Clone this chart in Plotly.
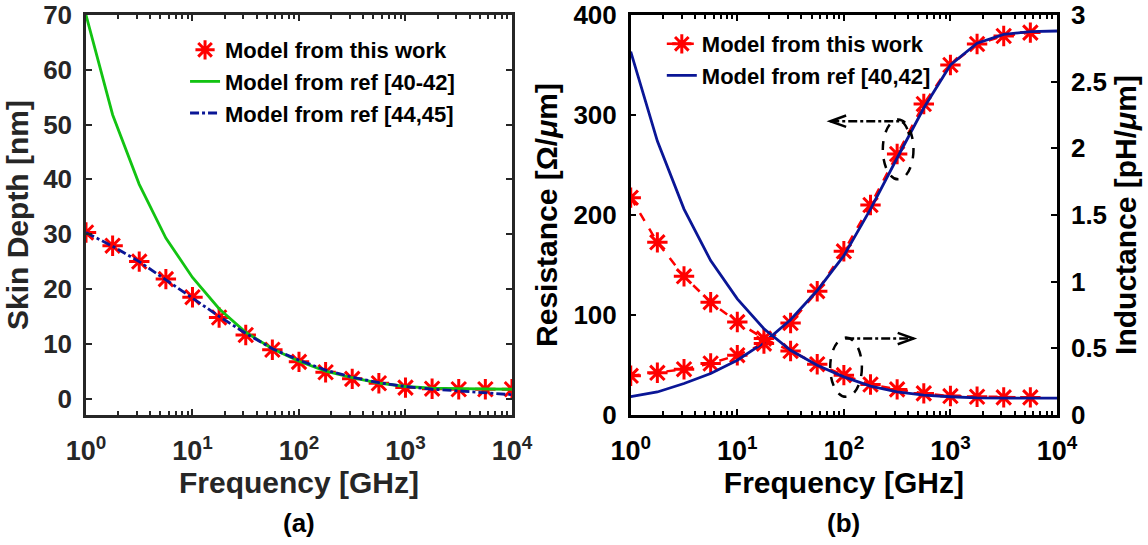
import plotly.graph_objects as go

# ---- data -----------------------------------------------------------------
# frequency grid, quarter-decade steps [GHz]
freq = [1, 1.778, 3.162, 5.623, 10, 17.78, 31.62, 56.23, 100, 177.8,
        316.2, 562.3, 1000, 1778, 3162, 5623, 10000]

# (a) skin depth [nm]
skin_this_work = [30.3, 27.9, 25.0, 21.8, 18.5, 14.8, 11.6, 8.9, 6.7, 4.8,
                  3.6, 2.8, 2.0, 1.8, 1.7, 1.7, 1.7]
skin_ref_40_42 = [70.0, 51.8, 39.1, 29.3, 22.1, 16.4, 12.1, 9.1, 6.8, 5.0,
                  3.8, 2.8, 2.2, 1.9, 1.8, 1.7, 1.7]
skin_ref_44_45 = [30.3, 27.8, 25.0, 21.7, 18.4, 15.0, 11.9, 9.1, 7.0, 5.2,
                  3.9, 2.9, 2.2, 1.7, 1.4, 1.1, 0.7]

# (b) per-unit-length resistance [Ohm/um] and inductance [pH/um]
freq_work = freq[:16]
res_this_work = [39.2, 42.2, 45.8, 51.5, 59.8, 71.4, 92.0, 123.8, 163.7, 210.0,
                 261.0, 311.0, 350.0, 371.0, 379.0, 382.4]
res_ref_40_42 = [18.3, 23.0, 31.5, 41.5, 54.8, 72.4, 95.3, 124.5, 159.3, 205.8,
                 257.0, 307.0, 350.0, 371.8, 380.7, 383.4, 384.0]
ind_this_work = [1.63, 1.295, 1.04, 0.846, 0.697, 0.573, 0.48, 0.381, 0.299,
                 0.229, 0.192, 0.162, 0.142, 0.137, 0.132, 0.132]
ind_ref_40_42 = [2.726, 2.054, 1.544, 1.158, 0.871, 0.647, 0.485, 0.373, 0.286,
                 0.217, 0.174, 0.149, 0.137, 0.129, 0.127, 0.127, 0.127]

decade_vals = [1, 10, 100, 1000, 10000]
decade_text = ["10<sup>0</sup>", "10<sup>1</sup>", "10<sup>2</sup>",
               "10<sup>3</sup>", "10<sup>4</sup>"]

# ---- styling ----------------------------------------------------------------
FONT = "Arial, Liberation Sans, sans-serif"
RED = "#ff0000"
GREEN = "#12c312"
NAVY = "#0a1696"
GREY = "#262626"

minor_vals = [m * 10 ** d for d in range(4) for m in range(2, 10)]

star = dict(symbol="asterisk-open", size=17, color=RED,
            line=dict(color=RED, width=3))

fig = go.Figure()

# (a) skin depth -- markers first so the model curves sit on top
fig.add_trace(go.Scatter(x=freq, y=skin_this_work, mode="markers",
                         marker=star, name="Model from this work",
                         legend="legend", legendrank=1, xaxis="x", yaxis="y"))
fig.add_trace(go.Scatter(x=freq, y=skin_ref_40_42, mode="lines",
                         line=dict(color=GREEN, width=2.8),
                         name="Model from ref [40-42]", legend="legend",
                         legendrank=2, xaxis="x", yaxis="y"))
fig.add_trace(go.Scatter(x=freq, y=skin_ref_44_45, mode="lines",
                         line=dict(color=NAVY, width=2.8, dash="dashdot"),
                         name="Model from ref [44,45]", legend="legend",
                         legendrank=3, xaxis="x", yaxis="y"))

# (b) resistance (left axis) and inductance (right axis)
fig.add_trace(go.Scatter(x=freq_work, y=res_this_work, mode="lines+markers",
                         line=dict(color=RED, width=2.5, dash="dash"),
                         marker=star, name="Model from this work",
                         legend="legend2", legendrank=1,
                         xaxis="x2", yaxis="y2"))
fig.add_trace(go.Scatter(x=freq_work, y=ind_this_work, mode="lines+markers",
                         line=dict(color=RED, width=2.5, dash="dash"),
                         marker=star, name="Model from this work",
                         showlegend=False, xaxis="x2", yaxis="y3"))
fig.add_trace(go.Scatter(x=freq, y=res_ref_40_42, mode="lines",
                         line=dict(color=NAVY, width=2.8),
                         name="Model from ref [40,42]", legend="legend2",
                         legendrank=2, xaxis="x2", yaxis="y2"))
fig.add_trace(go.Scatter(x=freq, y=ind_ref_40_42, mode="lines",
                         line=dict(color=NAVY, width=2.8),
                         name="Model from ref [40,42]", showlegend=False,
                         xaxis="x2", yaxis="y3"))


def log_x(domain, color, anchor):
    return dict(type="log", range=[0, 4], domain=domain, anchor=anchor,
                automargin=False, ticklabeloverflow="allow",
                tickmode="array", tickvals=decade_vals, ticktext=decade_text,
                ticks="inside", ticklen=6, tickwidth=2, tickcolor=color,
                ticklabelstandoff=10,
                showline=True, linecolor=color, linewidth=2.5, mirror="ticks",
                showgrid=False, zeroline=False,
                tickfont=dict(family=FONT, size=27, color=color, weight="bold"),
                minor=dict(tickmode="array", tickvals=minor_vals,
                           ticks="inside", ticklen=4, tickwidth=1.5,
                           tickcolor=color, showgrid=False),
                title=dict(text="Frequency [GHz]", standoff=4,
                           font=dict(family=FONT, size=30, color=color,
                                     weight="bold")))


title_font_grey = dict(family=FONT, size=30, color=GREY, weight="bold")
title_font_black = dict(family=FONT, size=30, color="black", weight="bold")
tick_font_grey = dict(family=FONT, size=26, color=GREY, weight="bold")
tick_font_black = dict(family=FONT, size=26, color="black", weight="bold")

fig.update_layout(
    template="none",
    width=1148, height=545,
    margin=dict(l=86, r=91, t=15, b=130),
    paper_bgcolor="white", plot_bgcolor="white",
    font=dict(family=FONT),
    xaxis=log_x([0, 0.4387], GREY, "y"),
    yaxis=dict(range=[-3, 70], dtick=10, domain=[0, 1], anchor="x",
               automargin=False, ticklabeloverflow="allow",
               ticklabelstandoff=6,
               ticks="inside", ticklen=6, tickwidth=2, tickcolor=GREY,
               showline=True, linecolor=GREY, linewidth=2.5, mirror="ticks",
               showgrid=False, zeroline=False, tickfont=tick_font_grey,
               title=dict(text="Skin Depth [nm]", standoff=6,
                          font=title_font_grey)),
    xaxis2=log_x([0.561, 1.0], "black", "y2"),
    yaxis2=dict(range=[0, 400], dtick=100, domain=[0, 1], anchor="x2",
                automargin=False, ticklabeloverflow="allow",
                ticklabelstandoff=6,
                ticks="inside", ticklen=6, tickwidth=2, tickcolor="black",
                showline=True, linecolor="black", linewidth=2.5,
                showgrid=False, zeroline=False, tickfont=tick_font_black,
                title=dict(text="Resistance [Ω/<i>μ</i>m]", standoff=7,
                           font=title_font_black)),
    yaxis3=dict(range=[0, 3], dtick=0.5, overlaying="y2", side="right",
                anchor="x2", automargin=False, ticklabeloverflow="allow",
                ticklabelstandoff=6,
                ticks="inside", ticklen=6, tickwidth=2,
                tickcolor="black", showline=True, linecolor="black",
                linewidth=2.5, showgrid=False, zeroline=False,
                tickfont=tick_font_black,
                title=dict(text="Inductance [pH/<i>μ</i>m]", standoff=9,
                           font=title_font_black)),
    legend=dict(x=0.102, y=0.965, xanchor="left", yanchor="top",
                bgcolor="rgba(0,0,0,0)", borderwidth=0,
                traceorder="normal", tracegroupgap=0,
                font=dict(family=FONT, size=22, color="black", weight="bold")),
    legend2=dict(x=0.593, y=0.98, xanchor="left", yanchor="top",
                 bgcolor="rgba(0,0,0,0)", borderwidth=0,
                 traceorder="normal", tracegroupgap=0,
                 font=dict(family=FONT, size=22, color="black", weight="bold")),
    showlegend=True,
)

# panel labels
for label, xdom in (("(a)", "x domain"), ("(b)", "x2 domain")):
    fig.add_annotation(text=label, xref=xdom, yref="paper", x=0.5, y=-0.27,
                       showarrow=False, yanchor="middle",
                       font=dict(family=FONT, size=26, color="black",
                                 weight="bold"))

# callouts: dashed ellipses around a curve, dash-dot arrows to its axis
callout = dict(color="black", width=2.5)
fig.add_shape(type="circle", xref="x2", yref="y2", x0=232, x1=450,
              y0=235.7, y1=295.5,
              line=dict(color="black", width=2.5, dash="dash"))
fig.add_shape(type="circle", xref="x2", yref="y2", x0=74.4, x1=147.6,
              y0=18.2, y1=77.4,
              line=dict(color="black", width=2.5, dash="dash"))
# arrow pointing to the resistance axis (left)
fig.add_shape(type="path", xref="x2", yref="y2",
              path="M 74.5,293.8 L 330,293.8 Q 380,293.8 410,280",
              line=dict(callout, dash="dashdot"))
fig.add_shape(type="path", xref="x2", yref="y2",
              path="M 105,299.5 L 74.5,293.8 L 105,288.1",
              line=callout)
# arrow pointing to the inductance axis (right)
fig.add_shape(type="path", xref="x2", yref="y2",
              path="M 102.9,76.4 L 450.6,76.4",
              line=dict(callout, dash="dashdot"))
fig.add_shape(type="path", xref="x2", yref="y2",
              path="M 320,82.1 L 450.6,76.4 L 320,70.7",
              line=callout)

fig.write_html("out.html")
